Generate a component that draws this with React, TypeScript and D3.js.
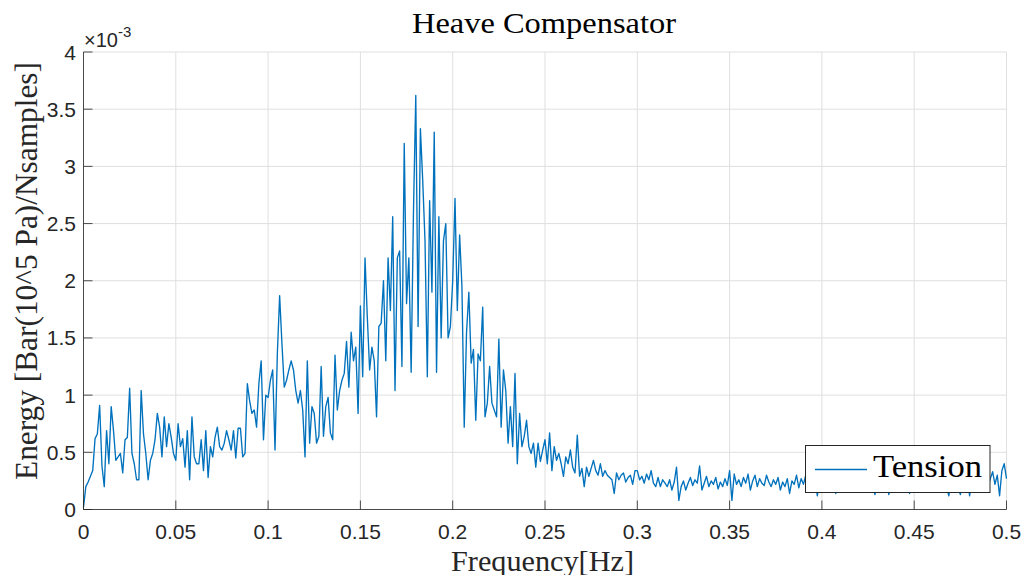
import React from "react";
import * as d3 from "d3";

// Spectrum sampling step (Hz) and energy values (units of 1e-3)
const FREQ_STEP = 0.00125;
const ENERGY: number[] = [
  0.02, 0.20, 0.24, 0.29, 0.34, 0.62, 0.66, 0.91, 0.38, 0.20,
  0.69, 0.40, 0.90, 0.69, 0.43, 0.46, 0.49, 0.32, 0.61, 0.63,
  1.06, 0.49, 0.40, 0.26, 0.26, 1.04, 0.66, 0.49, 0.26, 0.43,
  0.49, 0.61, 0.84, 0.72, 0.46, 0.81, 0.55, 0.75, 0.63, 0.49,
  0.43, 0.75, 0.55, 0.62, 0.37, 0.69, 0.26, 0.81, 0.46, 0.40,
  0.40, 0.61, 0.34, 0.69, 0.28, 0.55, 0.46, 0.63, 0.72, 0.55,
  0.52, 0.58, 0.69, 0.61, 0.52, 0.69, 0.45, 0.71, 0.71, 0.46,
  0.49, 1.10, 0.95, 0.84, 0.87, 0.72, 1.10, 1.30, 0.61, 1.00,
  0.98, 1.13, 1.22, 0.52, 1.36, 1.87, 1.45, 1.07, 1.13, 1.22,
  1.30, 1.22, 1.04, 0.93, 1.04, 0.87, 0.46, 1.30, 0.58, 0.90,
  0.84, 0.58, 0.64, 1.25, 0.64, 0.90, 0.98, 0.67, 0.61, 1.35,
  0.87, 1.04, 1.13, 1.19, 1.47, 1.07, 1.55, 1.30, 1.42, 0.84,
  1.78, 1.16, 2.20, 1.68, 1.22, 1.42, 1.30, 0.81, 1.60, 1.63,
  2.00, 1.30, 2.20, 1.74, 2.56, 1.04, 2.20, 2.26, 1.25, 3.20,
  1.80, 2.20, 1.20, 2.60, 3.62, 1.60, 3.33, 2.88, 2.35, 1.16,
  2.70, 1.90, 3.30, 1.20, 2.56, 1.50, 2.35, 2.50, 1.50, 1.60,
  2.00, 2.72, 1.74, 2.40, 1.95, 0.72, 1.55, 1.90, 1.28, 1.40,
  0.78, 1.36, 1.30, 1.77, 0.81, 0.93, 1.25, 0.93, 0.87, 0.81,
  1.49, 0.72, 1.22, 1.04, 0.58, 0.90, 0.55, 1.19, 0.40, 0.84,
  0.55, 0.64, 0.78, 0.55, 0.49, 0.58, 0.37, 0.58, 0.42, 0.52,
  0.61, 0.40, 0.67, 0.34, 0.55, 0.43, 0.49, 0.40, 0.29, 0.46,
  0.40, 0.52, 0.37, 0.32, 0.65, 0.29, 0.36, 0.20, 0.37, 0.29,
  0.36, 0.43, 0.34, 0.30, 0.40, 0.29, 0.34, 0.30, 0.28, 0.26,
  0.14, 0.32, 0.26, 0.30, 0.32, 0.24, 0.28, 0.30, 0.22, 0.34,
  0.34, 0.26, 0.29, 0.23, 0.31, 0.26, 0.34, 0.23, 0.20, 0.28,
  0.20, 0.26, 0.23, 0.20, 0.26, 0.17, 0.24, 0.37, 0.08, 0.20,
  0.25, 0.17, 0.23, 0.28, 0.21, 0.26, 0.23, 0.38, 0.17, 0.23,
  0.29, 0.20, 0.25, 0.22, 0.28, 0.18, 0.24, 0.20, 0.27, 0.21,
  0.34, 0.08, 0.31, 0.22, 0.26, 0.20, 0.28, 0.23, 0.31, 0.17,
  0.25, 0.30, 0.20, 0.27, 0.23, 0.21, 0.30, 0.24, 0.20, 0.26,
  0.22, 0.28, 0.17, 0.24, 0.20, 0.27, 0.14, 0.25, 0.22, 0.30,
  0.19, 0.27, 0.22, 0.30, 0.18, 0.25, 0.20, 0.28, 0.12, 0.24,
  0.21, 0.29, 0.17, 0.26, 0.22, 0.31, 0.14, 0.23, 0.27, 0.19,
  0.25, 0.22, 0.30, 0.18, 0.26, 0.21, 0.28, 0.20, 0.24, 0.29,
  0.19, 0.25, 0.22, 0.13, 0.27, 0.21, 0.24, 0.19, 0.28, 0.13,
  0.23, 0.26, 0.20, 0.29, 0.22, 0.25, 0.18, 0.27, 0.14, 0.24,
  0.21, 0.28, 0.20, 0.25, 0.22, 0.30, 0.19, 0.24, 0.21, 0.27,
  0.18, 0.25, 0.22, 0.28, 0.20, 0.12, 0.25, 0.21, 0.27, 0.19,
  0.13, 0.24, 0.22, 0.28, 0.12, 0.25, 0.21, 0.29, 0.18, 0.26,
  0.23, 0.30, 0.20, 0.27, 0.33, 0.22, 0.30, 0.12, 0.34, 0.40, 0.27,
];

const X_TICKS = [0, 0.05, 0.1, 0.15, 0.2, 0.25, 0.3, 0.35, 0.4, 0.45, 0.5];
const Y_TICKS = [0, 0.5, 1, 1.5, 2, 2.5, 3, 3.5, 4];
const TITLE = "Heave Compensator";
const X_LABEL = "Frequency[Hz]";
const Y_LABEL = "Energy [Bar(10^5 Pa)/Nsamples]";
const SERIES_NAME = "Tension";

const W = 1024;
const H = 575;
const LEFT = 83.5;
const RIGHT = 1006.5;
const TOP = 52;
const BOTTOM = 509.5;
const LINE_COLOR = "#0072BD";
const AXIS_COLOR = "#262626";
const GRID_COLOR = "#dfdfdf";
const SANS = "'Liberation Sans', Arial, sans-serif";
const SERIF = "'Liberation Serif', 'Times New Roman', serif";

export default function App() {
  const x = d3.scaleLinear().domain([0, 0.5]).range([LEFT, RIGHT]);
  const y = d3.scaleLinear().domain([0, 4]).range([BOTTOM, TOP]);
  const pts: [number, number][] = ENERGY.map((v, i) => [i * FREQ_STEP, v]);
  const line = d3
    .line<[number, number]>()
    .x((d) => x(d[0]))
    .y((d) => y(d[1]));
  const fmt = (v: number) => String(+v.toFixed(3));
  const tickLen = 9;

  return (
    <svg
      width={W}
      height={H}
      style={{ position: "absolute", left: 0, top: 0, background: "#fff" }}
    >
      <rect x={0} y={0} width={W} height={H} fill="#fff" />
      {/* grid */}
      {X_TICKS.map((t) => (
        <line key={"gx" + t} x1={x(t)} x2={x(t)} y1={TOP} y2={BOTTOM} stroke={GRID_COLOR} strokeWidth={1} />
      ))}
      {Y_TICKS.map((t) => (
        <line key={"gy" + t} x1={LEFT} x2={RIGHT} y1={y(t)} y2={y(t)} stroke={GRID_COLOR} strokeWidth={1} />
      ))}
      {/* data */}
      <path d={line(pts) || ""} fill="none" stroke={LINE_COLOR} strokeWidth={1.35} strokeLinejoin="round" />
      {/* axes */}
      <line x1={LEFT} x2={LEFT} y1={TOP} y2={BOTTOM} stroke={AXIS_COLOR} strokeWidth={1} opacity={0.8} />
      <line x1={LEFT} x2={RIGHT} y1={BOTTOM} y2={BOTTOM} stroke={AXIS_COLOR} strokeWidth={1} opacity={0.8} />
      {X_TICKS.map((t) => (
        <g key={"tx" + t}>
          <line x1={x(t)} x2={x(t)} y1={BOTTOM} y2={BOTTOM - tickLen} stroke={AXIS_COLOR} strokeWidth={1} opacity={0.8} />
          <text x={x(t)} y={538.5} textAnchor="middle" fontFamily={SANS} fontSize={21} fill={AXIS_COLOR}>
            {fmt(t)}
          </text>
        </g>
      ))}
      {Y_TICKS.map((t) => (
        <g key={"ty" + t}>
          <line x1={LEFT} x2={LEFT + tickLen} y1={y(t)} y2={y(t)} stroke={AXIS_COLOR} strokeWidth={1} opacity={0.8} />
          <text x={76} y={y(t) + 7.5} textAnchor="end" fontFamily={SANS} fontSize={21} fill={AXIS_COLOR}>
            {fmt(t)}
          </text>
        </g>
      ))}
      {/* exponent */}
      <text x={84} y={47} fontFamily={SANS} fontSize={20} fill={AXIS_COLOR}>
        ×10
        <tspan dy={-10} fontSize={15}>-3</tspan>
      </text>
      {/* title and labels */}
      <text x={544} y={33} textAnchor="middle" fontFamily={SERIF} fontSize={29} fill="#000" textLength={264} lengthAdjust="spacingAndGlyphs">
        {TITLE}
      </text>
      <text x={542.5} y={570.5} textAnchor="middle" fontFamily={SERIF} fontSize={30} fill="#262626" textLength={183} lengthAdjust="spacingAndGlyphs">
        {X_LABEL}
      </text>
      <text
        transform={`translate(37,271) rotate(-90)`}
        textAnchor="middle"
        fontFamily={SERIF}
        fontSize={31}
        fill="#262626"
        textLength={418}
        lengthAdjust="spacingAndGlyphs"
      >
        {Y_LABEL}
      </text>
      {/* legend */}
      <rect x={805.5} y={445.5} width={184.5} height={47} fill="#fff" stroke={AXIS_COLOR} strokeWidth={1} opacity={1} />
      <line x1={815} x2={867} y1={469.5} y2={469.5} stroke={LINE_COLOR} strokeWidth={1.35} />
      <text x={873} y={477} fontFamily={SERIF} fontSize={31} fill="#000" textLength={109} lengthAdjust="spacingAndGlyphs">
        {SERIES_NAME}
      </text>
    </svg>
  );
}
